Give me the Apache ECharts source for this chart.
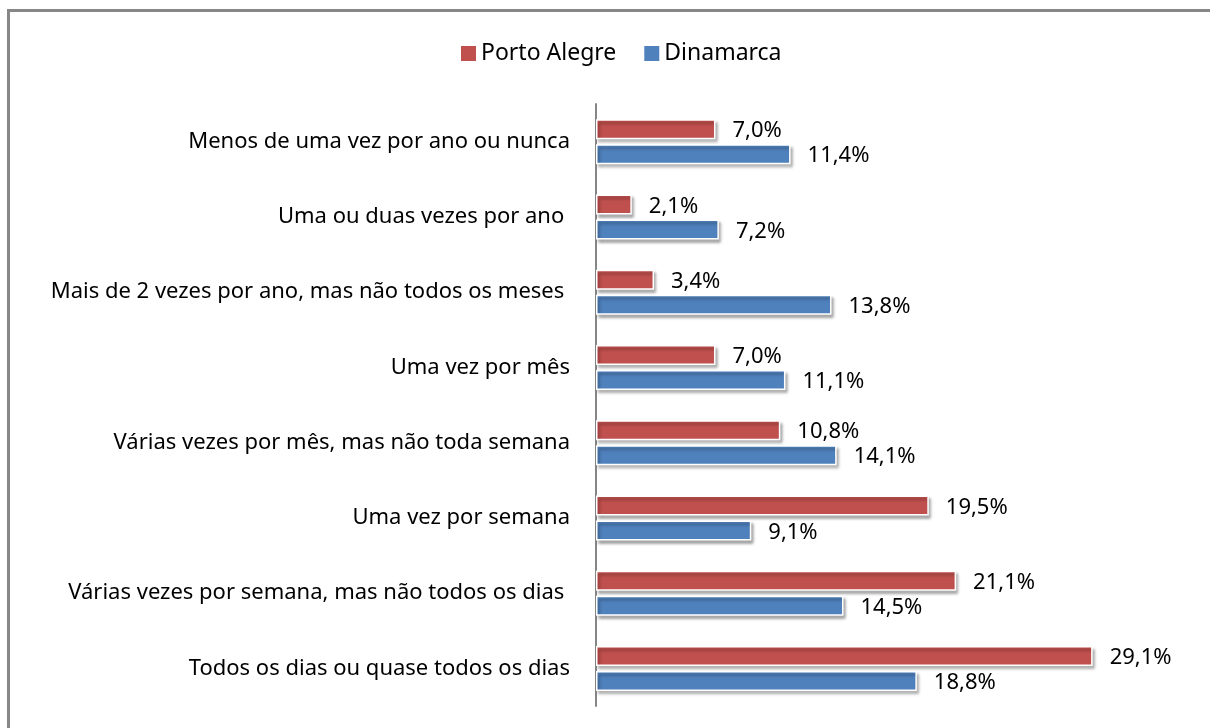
<!DOCTYPE html>
<html>
<head>
    <meta charset="UTF-8">
    <title>frequencia</title>
    <script src="https://cdn.jsdelivr.net/npm/echarts@6/dist/echarts.min.js"></script>
    <style>
        html, body { margin: 0; padding: 0; background: #fff; }
        #chart { width: 1210px; height: 728px; }
    </style>
</head>
<body>
<div id="chart"></div>
<script>
    // categorias de baixo para cima
    var categorias = [
        'Todos os dias ou quase todos os dias',
        'Várias vezes por semana, mas não todos os dias ',
        'Uma vez por semana',
        'Várias vezes por mês, mas não toda semana',
        'Uma vez por mês',
        'Mais de 2 vezes por ano, mas não todos os meses ',
        'Uma ou duas vezes por ano ',
        'Menos de uma vez por ano ou nunca'
    ];
    var portoAlegre = [29.1, 21.1, 19.5, 10.8, 7.0, 3.4, 2.1, 7.0];
    var dinamarca = [18.8, 14.5, 9.1, 14.1, 11.1, 13.8, 7.2, 11.4];

    var fonte = '"Noto Sans"';
    var chart = echarts.init(document.getElementById('chart'));

    function rotulo(p) {
        return p.value.toFixed(1).replace('.', ',') + '%';
    }

    var estiloBarra = {
        borderColor: '#fff',
        borderWidth: 1.5,
        shadowColor: 'rgba(0,0,0,0.35)',
        shadowBlur: 3,
        shadowOffsetX: 2,
        shadowOffsetY: 3
    };

    chart.setOption({
        animation: false,
        textStyle: { fontFamily: fonte },
        graphic: [{
            type: 'rect',
            shape: { x: 8.5, y: 10.5, width: 1300, height: 800 },
            style: { fill: 'none', stroke: '#878787', lineWidth: 3 },
            silent: true
        }],
        legend: {
            top: 37,
            left: 456,
            itemWidth: 15,
            itemHeight: 15,
            itemGap: 28,
            icon: 'rect',
            itemStyle: { borderWidth: 0, shadowBlur: 0, shadowOffsetX: 0, shadowOffsetY: 0 },
            textStyle: { fontSize: 23, color: '#000', fontFamily: fonte },
            data: ['Porto Alegre', 'Dinamarca']
        },
        grid: { left: 596, top: 104, right: 102, bottom: 22, containLabel: false },
        xAxis: {
            type: 'value',
            min: 0,
            max: 30,
            show: false
        },
        yAxis: {
            type: 'category',
            data: categorias,
            axisLine: { show: true, lineStyle: { color: '#868686', width: 2 } },
            axisTick: { show: false },
            axisLabel: { fontSize: 22, color: '#000', margin: 26, fontFamily: fonte }
        },
        series: [
            {
                name: 'Porto Alegre',
                type: 'bar',
                data: portoAlegre,
                barWidth: 20,
                barGap: '25%',
                itemStyle: Object.assign({ color: '#C0504D' }, estiloBarra),
                label: { show: true, position: 'right', distance: 17, offset: [0, 2], fontSize: 22, color: '#000', formatter: rotulo }
            },
            {
                name: 'Dinamarca',
                type: 'bar',
                data: dinamarca,
                barWidth: 20,
                barGap: '25%',
                itemStyle: Object.assign({ color: '#4F81BD' }, estiloBarra),
                label: { show: true, position: 'right', distance: 17, offset: [0, 2], fontSize: 22, color: '#000', formatter: rotulo }
            }
        ]
    });
</script>
</body>
</html>
